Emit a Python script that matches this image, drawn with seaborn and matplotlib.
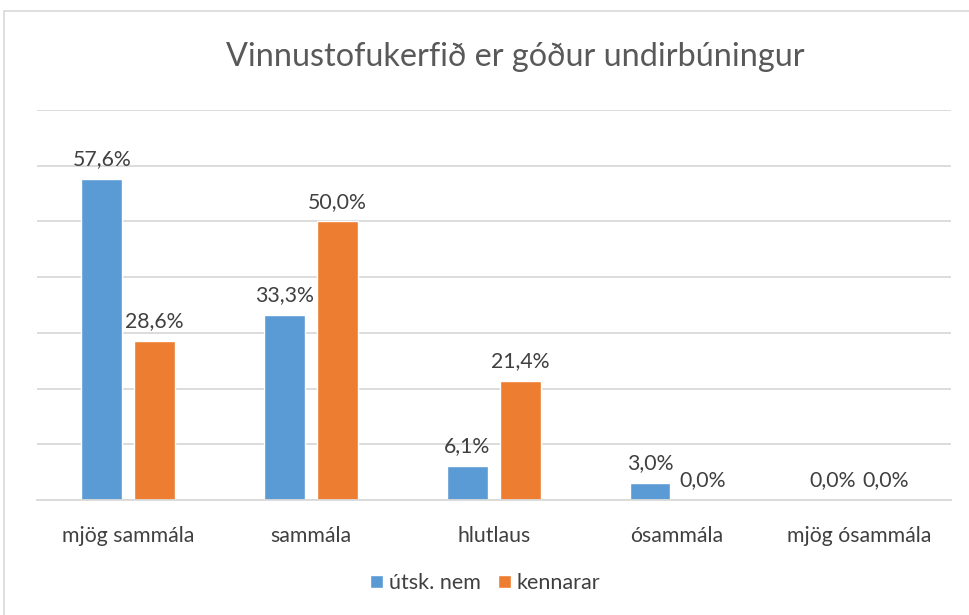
import pandas as pd
import seaborn as sns
import matplotlib.pyplot as plt
from matplotlib.patches import Rectangle

# data
categories = ["mjög sammála", "sammála", "hlutlaus", "ósammála", "mjög ósammála"]
utsk_nem = [57.6, 33.3, 6.1, 3.0, 0.0]
kennarar = [28.6, 50.0, 21.4, 0.0, 0.0]
series = ["útsk. nem", "kennarar"]

df = pd.DataFrame({
    "flokkur": categories * 2,
    "hópur": [series[0]] * 5 + [series[1]] * 5,
    "hlutfall": utsk_nem + kennarar,
})

sns.set_style("white")
plt.rcParams['font.family'] = ['Lato', 'DejaVu Sans']

fig = plt.figure(figsize=(9.7, 6.15), dpi=100)
ax = fig.add_axes([0.038, 0.187, 0.942, 0.634])

sns.barplot(data=df, x="flokkur", y="hlutfall", hue="hópur",
            palette=["#5B9BD5", "#ED7D31"], saturation=1, width=0.58, gap=0.228,
            ax=ax, legend=True)

ax.set_ylim(0, 70)
ax.set_xlim(-0.5, 4.5)
ax.set_yticks(range(0, 71, 10))
ax.yaxis.grid(True, color="#D9D9D9", linewidth=1.3)
ax.set_axisbelow(True)
ax.set_yticklabels([])
ax.tick_params(axis="y", length=0)
ax.tick_params(axis="x", length=0, pad=19, labelsize=15.3, labelcolor="#404040")
ax.set_xlabel("")
ax.set_ylabel("")
for s in ["top", "right", "left"]:
    ax.spines[s].set_visible(False)
ax.spines["bottom"].set_color("#D9D9D9")
ax.spines["bottom"].set_linewidth(1.3)

for cont in ax.containers:
    ax.bar_label(cont, labels=[f"{v:.1f}%".replace(".", ",") for v in cont.datavalues],
                 padding=7, fontsize=15.3, color="#404040")

ax.legend_.remove()
handles, labels = ax.get_legend_handles_labels()
fig.legend(handles, labels, loc="center", bbox_to_anchor=(0.5, 0.052), ncol=2,
           frameon=False, fontsize=15.5, labelcolor="#404040",
           handlelength=0.6, handleheight=0.6, handletextpad=0.25, columnspacing=0.8)

fig.text(0.531, 0.907, "Vinnustofukerfið er góður undirbúningur", ha="center", va="center",
         fontsize=23.3, color="#595959")

fig.patches.append(Rectangle((0.004, -0.01), 1.1, 0.992, transform=fig.transFigure,
                             fill=False, edgecolor="#D9D9D9", linewidth=1.2))

fig.savefig("out.png", dpi=100)
